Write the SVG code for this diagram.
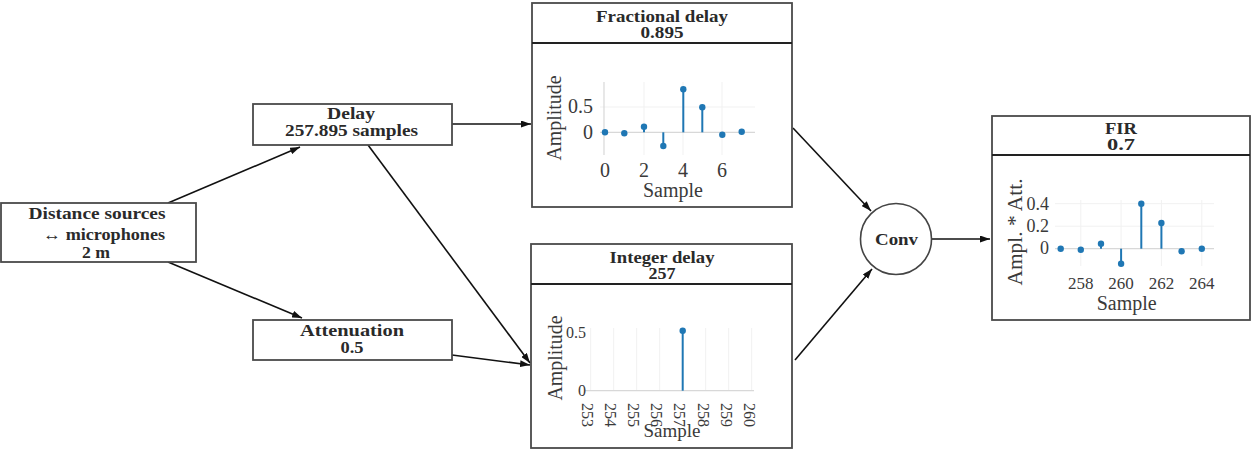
<svg xmlns="http://www.w3.org/2000/svg" width="1258" height="450" viewBox="0 0 1258 450">
<style>
.box{fill:#fff;stroke:#4a4a4a;stroke-width:1.8}
.sep{stroke:#222;stroke-width:1.8}
.lbl{font-family:"Liberation Serif",serif;font-size:16px;font-weight:bold;fill:#2a2a2a;text-anchor:middle}
.ax{font-family:"Liberation Serif",serif;fill:#3a3a3a}
.zero{stroke:#d8d8d8;stroke-width:1.2}
.grid{stroke:#f1f1f1;stroke-width:1}
.stem{stroke:#1f77b4;stroke-width:2}
.dot{fill:#1f77b4}
.conn{stroke:#111;stroke-width:1.6;fill:none;marker-end:url(#ah)}
</style>
<defs>
<marker id="ah" viewBox="0 0 10 7" refX="10" refY="3.5" markerWidth="10" markerHeight="7" markerUnits="userSpaceOnUse" orient="auto">
<path d="M0,0 L10,3.5 L0,7 Z" fill="#111"/>
</marker>
</defs>
<rect width="1258" height="450" fill="#fff"/>

<g id="connectors">
<line class="conn" x1="168" y1="203" x2="300" y2="147"/>
<line class="conn" x1="168" y1="262" x2="302" y2="318"/>
<line class="conn" x1="452" y1="124" x2="531" y2="124"/>
<line class="conn" x1="368" y1="145" x2="530" y2="363"/>
<line class="conn" x1="452" y1="355" x2="530" y2="365"/>
<line class="conn" x1="793" y1="128" x2="871" y2="211"/>
<line class="conn" x1="795" y1="360" x2="872" y2="269"/>
<line class="conn" x1="932" y1="239" x2="990" y2="239"/>
</g>

<g id="distance">
<rect class="box" x="1" y="203" width="195" height="59"/>
<text class="lbl" x="97" y="218.5" textLength="137" lengthAdjust="spacingAndGlyphs">Distance sources</text>
<text class="lbl" x="104" y="239.5" textLength="122" lengthAdjust="spacingAndGlyphs">↔ microphones</text>
<text class="lbl" x="96" y="258" textLength="28" lengthAdjust="spacingAndGlyphs">2 m</text>
</g>

<g id="delay">
<rect class="box" x="253" y="104" width="199" height="41"/>
<text class="lbl" x="351" y="118.5" textLength="48" lengthAdjust="spacingAndGlyphs">Delay</text>
<text class="lbl" x="351.5" y="136" textLength="133" lengthAdjust="spacingAndGlyphs">257.895 samples</text>
</g>

<g id="attenuation">
<rect class="box" x="253" y="320" width="199" height="40"/>
<text class="lbl" x="352" y="335.5" textLength="104" lengthAdjust="spacingAndGlyphs">Attenuation</text>
<text class="lbl" x="352" y="352.5" textLength="23" lengthAdjust="spacingAndGlyphs">0.5</text>
</g>

<g id="fractional">
<rect class="box" x="532" y="3" width="260" height="204"/>
<line class="sep" x1="532" y1="43" x2="792" y2="43"/>
<text class="lbl" x="662" y="21.5" textLength="132" lengthAdjust="spacingAndGlyphs">Fractional delay</text>
<text class="lbl" x="662" y="37.5" textLength="43" lengthAdjust="spacingAndGlyphs">0.895</text>
<line class="grid" x1="644" y1="82" x2="644" y2="155"/>
<line class="grid" x1="683" y1="82" x2="683" y2="155"/>
<line class="grid" x1="722" y1="82" x2="722" y2="155"/>
<line class="grid" x1="600" y1="107" x2="755" y2="107"/>
<line class="zero" x1="604" y1="82" x2="604" y2="155"/>
<line class="zero" x1="600" y1="132.3" x2="755" y2="132.3"/>
<line class="stem" x1="624.3" y1="132.3" x2="624.3" y2="133.3"/>
<line class="stem" x1="644" y1="132.3" x2="644" y2="126.7"/>
<line class="stem" x1="663.3" y1="132.3" x2="663.3" y2="146"/>
<line class="stem" x1="683.3" y1="132.3" x2="683.3" y2="89.3"/>
<line class="stem" x1="702.3" y1="132.3" x2="702.3" y2="107.3"/>
<line class="stem" x1="722.3" y1="132.3" x2="722.3" y2="134.7"/>
<circle class="dot" cx="605" cy="132.3" r="3.2"/>
<circle class="dot" cx="624.3" cy="133.3" r="3.2"/>
<circle class="dot" cx="644" cy="126.7" r="3.2"/>
<circle class="dot" cx="663.3" cy="146" r="3.2"/>
<circle class="dot" cx="683.3" cy="89.3" r="3.2"/>
<circle class="dot" cx="702.3" cy="107.3" r="3.2"/>
<circle class="dot" cx="722.3" cy="134.7" r="3.2"/>
<circle class="dot" cx="741.7" cy="131.7" r="3.2"/>
<g class="ax" font-size="20" text-anchor="end">
<text x="593" y="113">0.5</text>
<text x="593" y="139">0</text>
</g>
<g class="ax" font-size="20" text-anchor="middle">
<text x="605" y="177">0</text>
<text x="644" y="177">2</text>
<text x="683" y="177">4</text>
<text x="722" y="177">6</text>
<text x="673" y="197">Sample</text>
<text transform="translate(561,118) rotate(-90)" textLength="85" lengthAdjust="spacingAndGlyphs">Amplitude</text>
</g>
</g>

<g id="integer">
<rect class="box" x="531" y="244" width="261" height="204"/>
<line class="sep" x1="531" y1="284" x2="792" y2="284"/>
<text class="lbl" x="662" y="263" textLength="105" lengthAdjust="spacingAndGlyphs">Integer delay</text>
<text class="lbl" x="662" y="278.5" textLength="27" lengthAdjust="spacingAndGlyphs">257</text>
<line class="grid" x1="590.7" y1="328" x2="590.7" y2="390.7"/>
<line class="grid" x1="613.7" y1="328" x2="613.7" y2="390.7"/>
<line class="grid" x1="636.7" y1="328" x2="636.7" y2="390.7"/>
<line class="grid" x1="659.7" y1="328" x2="659.7" y2="390.7"/>
<line class="grid" x1="705.7" y1="328" x2="705.7" y2="390.7"/>
<line class="grid" x1="728.7" y1="328" x2="728.7" y2="390.7"/>
<line class="grid" x1="751.7" y1="328" x2="751.7" y2="390.7"/>
<line class="zero" x1="585" y1="390.7" x2="754" y2="390.7"/>
<line class="stem" x1="682.7" y1="390.7" x2="682.7" y2="330.7"/>
<circle class="dot" cx="682.7" cy="330.7" r="3.2"/>
<g class="ax" font-size="16" text-anchor="end">
<text x="586" y="338">0.5</text>
<text x="586" y="395.5">0</text>
</g>
<g class="ax" font-size="16" text-anchor="start">
<text transform="translate(582,403) rotate(90)">253</text>
<text transform="translate(605.1,403) rotate(90)">254</text>
<text transform="translate(628.2,403) rotate(90)">255</text>
<text transform="translate(651.3,403) rotate(90)">256</text>
<text transform="translate(674.4,403) rotate(90)">257</text>
<text transform="translate(697.5,403) rotate(90)">258</text>
<text transform="translate(720.6,403) rotate(90)">259</text>
<text transform="translate(743.7,403) rotate(90)">260</text>
</g>
<g class="ax" font-size="19" text-anchor="middle">
<text x="672" y="437">Sample</text>
<text transform="translate(561.5,358) rotate(-90)" font-size="20" textLength="85" lengthAdjust="spacingAndGlyphs">Amplitude</text>
</g>
</g>

<g id="conv">
<circle cx="896" cy="239" r="35.5" fill="#fff" stroke="#444" stroke-width="1.6"/>
<text class="lbl" x="896.5" y="245" textLength="43" lengthAdjust="spacingAndGlyphs">Conv</text>
</g>

<g id="fir">
<rect class="box" x="992" y="116" width="258" height="204"/>
<line class="sep" x1="992" y1="155" x2="1250" y2="155"/>
<text class="lbl" x="1121" y="133.5" textLength="32" lengthAdjust="spacingAndGlyphs">FIR</text>
<text class="lbl" x="1121" y="150" textLength="28" lengthAdjust="spacingAndGlyphs">0.7</text>
<line class="grid" x1="1080.8" y1="200" x2="1080.8" y2="266"/>
<line class="grid" x1="1121.1" y1="200" x2="1121.1" y2="266"/>
<line class="grid" x1="1161.4" y1="200" x2="1161.4" y2="266"/>
<line class="grid" x1="1201.8" y1="200" x2="1201.8" y2="266"/>
<line class="grid" x1="1055" y1="203.7" x2="1214" y2="203.7"/>
<line class="grid" x1="1055" y1="226.2" x2="1214" y2="226.2"/>
<line class="zero" x1="1055" y1="248.7" x2="1214" y2="248.7"/>
<line class="stem" x1="1080.8" y1="248.7" x2="1080.8" y2="249.7"/>
<line class="stem" x1="1101" y1="248.7" x2="1101" y2="243.7"/>
<line class="stem" x1="1121.1" y1="248.7" x2="1121.1" y2="263.7"/>
<line class="stem" x1="1141.3" y1="248.7" x2="1141.3" y2="203.7"/>
<line class="stem" x1="1161.4" y1="248.7" x2="1161.4" y2="223"/>
<line class="stem" x1="1181.6" y1="248.7" x2="1181.6" y2="251.3"/>
<circle class="dot" cx="1060.7" cy="248.7" r="3.2"/>
<circle class="dot" cx="1080.8" cy="249.7" r="3.2"/>
<circle class="dot" cx="1101" cy="243.7" r="3.2"/>
<circle class="dot" cx="1121.1" cy="263.7" r="3.2"/>
<circle class="dot" cx="1141.3" cy="203.7" r="3.2"/>
<circle class="dot" cx="1161.4" cy="223" r="3.2"/>
<circle class="dot" cx="1181.6" cy="251.3" r="3.2"/>
<circle class="dot" cx="1201.8" cy="248.7" r="3.2"/>
<g class="ax" font-size="18" text-anchor="end">
<text x="1049" y="209.5">0.4</text>
<text x="1049" y="231.5">0.2</text>
<text x="1049" y="254">0</text>
</g>
<g class="ax" font-size="17" text-anchor="middle">
<text x="1080.8" y="289">258</text>
<text x="1121.1" y="289">260</text>
<text x="1161.4" y="289">262</text>
<text x="1201.8" y="289">264</text>
<text x="1126.7" y="310" font-size="20">Sample</text>
<text transform="translate(1022,232) rotate(-90)" font-size="20" textLength="107" lengthAdjust="spacingAndGlyphs">Ampl. * Att.</text>
</g>
</g>
</svg>
